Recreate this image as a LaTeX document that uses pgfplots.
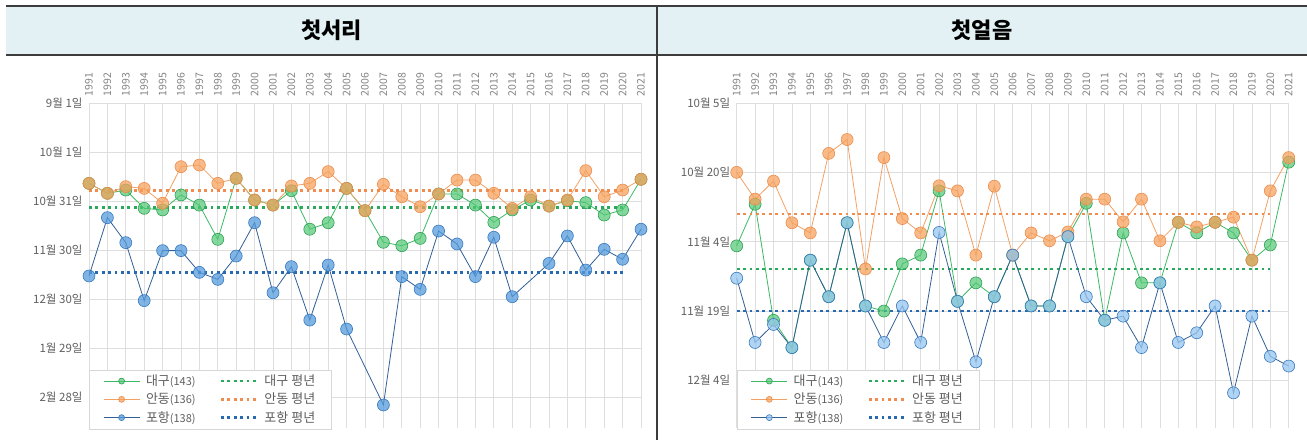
\documentclass[border=0pt]{standalone}
\usepackage{pgfplots}
\pgfplotsset{compat=1.18}
\usepackage{pgfplotstable}
\usepackage{fontspec}
\setmainfont{Noto Sans CJK KR}

\definecolor{hdr}{RGB}{227,241,244}
\definecolor{frm}{RGB}{60,60,60}
\definecolor{gridgray}{RGB}{222,222,222}
\definecolor{labgray}{RGB}{95,95,95}
\definecolor{yeargray}{RGB}{130,130,130}
\definecolor{dgline}{RGB}{60,185,100}
\definecolor{dgfill}{RGB}{80,200,115}
\definecolor{dgdraw}{RGB}{45,160,85}
\definecolor{adline}{RGB}{243,160,100}
\definecolor{adfill}{RGB}{246,160,90}
\definecolor{addraw}{RGB}{235,140,75}
\definecolor{phline}{RGB}{50,95,150}
\definecolor{phfillA}{RGB}{85,155,220}
\definecolor{phfillB}{RGB}{150,198,240}
\definecolor{phdraw}{RGB}{55,120,190}
\definecolor{dgmean}{RGB}{40,170,90}
\definecolor{admean}{RGB}{240,140,80}
\definecolor{phmean}{RGB}{40,105,175}

% days after 1 September
\pgfplotstableread{
year dg ad ph
1991 49.2 49.2 105.9
1992 55.3 55.3 70.2
1993 53.3 51.2 85.5
1994 64.5 52.3 121
1995 65.5 61.4 90.4
1996 56.3 39 90.4
1997 62.5 38 103.7
1998 83.5 49.2 108
1999 46.1 46.1 93.7
2000 59.4 59.4 73.3
2001 62.5 62.5 116.2
2002 53.7 50.8 100.2
2003 77.3 49.2 132.9
2004 73.3 42 99.2
2005 52.3 52.3 138.4
2006 65.9 65.9 nan
2007 85.3 49.8 184.9
2008 87.4 57.4 106.3
2009 82.9 63.5 114.1
2010 55.7 55.7 78.4
2011 55.7 47.2 86.3
2012 62.5 47.2 106.3
2013 73.1 55.3 82.2
2014 65.5 64.5 118.6
2015 59.4 57.4 nan
2016 63.1 63.1 98.2
2017 59.8 59.4 81.4
2018 61 41.4 102.3
2019 68.6 57.4 89.6
2020 65.5 53.3 95.7
2021 46.7 46.7 77.3
}\frost

% days after 5 October
\pgfplotstableread{
year dg ad ph
1991 30.9 15.0 37.9
1992 21.9 20.8 51.8
1993 47 16.9 47.9
1994 52.9 25.9 52.9
1995 34 28.1 34
1996 41.9 10.9 41.9
1997 25.9 7.9 25.9
1998 43.9 35.9 43.9
1999 45 11.8 51.8
2000 34.8 25 43.9
2001 32.9 28.1 51.8
2002 19 17.9 28
2003 42.9 19 42.9
2004 38.9 32.9 56
2005 41.9 18 41.9
2006 32.9 32.9 32.9
2007 43.9 28.1 43.9
2008 43.9 29.8 43.9
2009 28.9 27.9 28.9
2010 21.7 20.8 41.9
2011 47 20.8 47
2012 28.1 25.7 46.1
2013 38.9 20.8 52.9
2014 38.9 29.8 38.9
2015 25.8 25.8 51.8
2016 28.1 26.8 49.7
2017 25.8 25.8 43.9
2018 28.1 24.7 62.7
2019 34 34 46.1
2020 30.7 19 54.8
2021 12.8 11.8 56.9
}\ice

\pgfplotsset{
  common/.style={
    scale only axis, width=552pt, height=325pt, anchor=south west,
    xmin=1991, xmax=2021, xtick={1991,...,2021},
    y dir=reverse,
    xticklabel pos=upper,
    x tick label style={rotate=90, anchor=west, yshift=0pt, xshift=3pt, font=\fontsize{10.5}{10.5}\selectfont, text=yeargray, /pgf/number format/1000 sep={}},
    y tick label style={font=\fontsize{11.5}{12}\selectfont, text=labgray, xshift=-3pt},
    /pgf/number format/assume math mode=true,
    grid=major, major grid style={gridgray, line width=0.7pt},
    axis line style={draw=none}, major tick length=0pt,
    clip=false,
    legend columns=2,
    legend cell align=left,
    legend style={at={(0,0)}, anchor=south west, yshift=-1pt,
      draw={rgb,255:red,215;green,215;blue,215}, fill=white,
      font=\fontsize{13}{14}\selectfont, text=labgray,
      inner xsep=14pt, inner ysep=3pt, row sep=2pt,
      /tikz/every odd column/.append style={column sep=4pt},
      /tikz/every even column/.append style={column sep=22pt}},
    legend image code/.code={\draw[mark repeat=2,mark phase=2,##1, mark size=3pt] plot coordinates {(0pt,0pt) (18pt,0pt) (36pt,0pt)};},
  },
  mean/.style={line width=2.8pt, dash pattern=on 2.8pt off 3.6pt},
  dgs/.style={dgline, line width=0.8pt, mark=*, mark size=6pt, mark options={fill=dgfill, fill opacity=0.7, draw=dgdraw, line width=0.6pt}},
  ads/.style={adline, line width=0.8pt, mark=*, mark size=6pt, mark options={fill=adfill, fill opacity=0.72, draw=addraw, line width=0.6pt}},
}

\begin{document}
\begin{tikzpicture}[x=1pt,y=1pt]
\useasboundingbox (0,0) rectangle (1307,440);
\fill[hdr] (6,385) rectangle (1307,434);
\draw[frm, line width=2pt] (6,434) -- (1307,434);
\draw[frm, line width=2pt] (6,385) -- (1307,385);
\draw[frm, line width=2pt] (657,434) -- (657,0);
\node[font=\fontsize{22}{24}\selectfont\bfseries, text=black] at (331.5,409.5) {첫서리};
\node[font=\fontsize{22}{24}\selectfont\bfseries, text=black] at (982,409.5) {첫얼음};

\begin{axis}[common, at={(89pt,12pt)},
  ymin=0, ymax=199, ytick={0,30,...,180},
  yticklabels={9월 1일,10월 1일,10월 31일,11월 30일,12월 30일,1월 29일,2월 28일}]
\addplot[dgs] table[x=year, y=dg] {\frost};
\addlegendentry{대구{\fontsize{11}{12}\selectfont(143)}}
\addplot[dgmean, mean] coordinates {(1991,64.1) (2020,64.1)};
\addlegendentry{대구 평년}
\addplot[ads] table[x=year, y=ad] {\frost};
\addlegendentry{안동{\fontsize{11}{12}\selectfont(136)}}
\addplot[admean, mean] coordinates {(1991,53.7) (2020,53.7)};
\addlegendentry{안동 평년}
\addplot[phline, line width=0.8pt, mark=*, mark size=6pt, mark options={fill=phfillA, fill opacity=0.75, draw=phdraw, line width=0.6pt}] table[x=year, y=ph] {\frost};
\addlegendentry{포항{\fontsize{11}{12}\selectfont(138)}}
\addplot[phmean, mean] coordinates {(1991,103.7) (2020,103.7)};
\addlegendentry{포항 평년}
\end{axis}

\begin{axis}[common, at={(736.7pt,12pt)},
  ymin=0, ymax=70.3, ytick={0,15,...,60},
  yticklabels={10월 5일,10월 20일,11월 4일,11월 19일,12월 4일}]
\addplot[dgs] table[x=year, y=dg] {\ice};
\addlegendentry{대구{\fontsize{11}{12}\selectfont(143)}}
\addplot[dgmean, mean] coordinates {(1991,35.9) (2020,35.9)};
\addlegendentry{대구 평년}
\addplot[ads] table[x=year, y=ad] {\ice};
\addlegendentry{안동{\fontsize{11}{12}\selectfont(136)}}
\addplot[admean, mean] coordinates {(1991,24) (2020,24)};
\addlegendentry{안동 평년}
\addplot[phline, line width=0.8pt, mark=*, mark size=6pt, mark options={fill=phfillB, fill opacity=0.75, draw=phdraw, line width=0.6pt}] table[x=year, y=ph] {\ice};
\addlegendentry{포항{\fontsize{11}{12}\selectfont(138)}}
\addplot[phmean, mean] coordinates {(1991,45) (2020,45)};
\addlegendentry{포항 평년}
\end{axis}
\end{tikzpicture}
\end{document}
